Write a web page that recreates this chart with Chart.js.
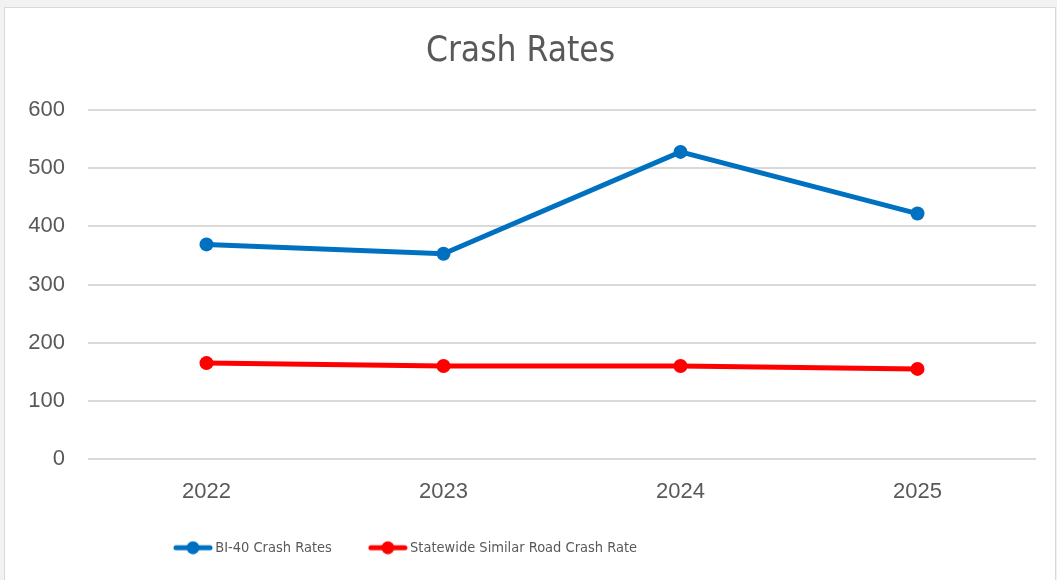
<!DOCTYPE html>
<html lang="en">
<head>
  <meta charset="UTF-8">
  <title>Crash Rates</title>
  <script src="https://cdn.jsdelivr.net/npm/chart.js"></script>
  <style>
    html, body {
      margin: 0;
      padding: 0;
      background: #f2f2f2;
    }
    #frame {
      position: absolute;
      left: 4px;
      top: 7px;
      width: 1050px;
      height: 572px;
      background: #fff;
      border: 1px solid #d9d9d9;
    }
  </style>
</head>
<body>
  <div id="frame"><canvas id="myChart"></canvas></div>

  <script>
    const years = ['2022', '2023', '2024', '2025'];
    const bi40Rates = [369, 353, 528, 422];
    const statewideRates = [165, 160, 160, 155];
    const yTicks = [0, 100, 200, 300, 400, 500, 600];

    const textGray = '#595959';
    const narrow = "'Liberation Sans Narrow', 'DejaVu Sans Condensed', Roboto, sans-serif";

    // legend marker: short line with a dot, like Excel. the canvas is wider than
    // the line so the marker sits close to its text
    function legendMarker(color) {
      const c = document.createElement('canvas');
      c.width = 74;
      c.height = 14;
      const g = c.getContext('2d');
      g.strokeStyle = color;
      g.lineWidth = 5;
      g.lineCap = 'round';
      g.beginPath();
      g.moveTo(33, 7);
      g.lineTo(67, 7);
      g.stroke();
      g.fillStyle = color;
      g.beginPath();
      g.arc(50, 7, 6.5, 0, Math.PI * 2);
      g.fill();
      return c;
    }

    // Excel leaves the legend left of centre
    const legendShift = {
      id: 'legendShift',
      afterLayout(ch) {
        ch.legend.left = 132;
      }
    };

    const ctx = document.getElementById('myChart').getContext('2d');
    const chart = new Chart(ctx, {
      type: 'line',
      data: {
        labels: years,
        datasets: [{
          label: 'BI-40 Crash Rates',
          data: bi40Rates,
          borderColor: '#0070c0',
          backgroundColor: '#0070c0',
          borderWidth: 5,
          pointRadius: 7,
          pointHoverRadius: 7,
          pointBorderWidth: 0,
          tension: 0
        }, {
          label: 'Statewide Similar Road Crash Rate',
          data: statewideRates,
          borderColor: '#ff0000',
          backgroundColor: '#ff0000',
          borderWidth: 5,
          pointRadius: 7,
          pointHoverRadius: 7,
          pointBorderWidth: 0,
          tension: 0
        }]
      },
      plugins: [legendShift],
      options: {
        responsive: true,
        maintainAspectRatio: false,
        animation: false,
        layout: {
          padding: { left: 0, right: 19, top: 0, bottom: 15 }
        },
        scales: {
          x: {
            offset: true,
            grid: { display: false, drawTicks: false },
            border: { display: false },
            ticks: {
              color: textGray,
              padding: 20,
              font: { family: 'Liberation Sans', size: 22 }
            }
          },
          y: {
            min: 0,
            max: 600,
            afterBuildTicks: axis => {
              axis.ticks = yTicks.map(v => ({ value: v }));
            },
            afterFit: axis => { axis.width = 83; },
            grid: { color: '#d9d9d9', lineWidth: 2, drawTicks: false },
            border: { display: false },
            ticks: {
              color: textGray,
              padding: 23,
              font: { family: 'Liberation Sans', size: 22 }
            }
          }
        },
        plugins: {
          title: {
            display: true,
            text: 'Crash Rates',
            color: textGray,
            font: { family: narrow, size: 35, weight: 'normal' },
            padding: { top: 23, bottom: 37 }
          },
          legend: {
            position: 'bottom',
            align: 'start',
            labels: {
              color: textGray,
              font: { family: narrow, size: 14.5 },
              usePointStyle: true,
              pointStyleWidth: 56,
              padding: 15,
              generateLabels: ch => ch.data.datasets.map((ds, i) => ({
                text: ds.label,
                fontColor: textGray,
                pointStyle: legendMarker(ds.borderColor),
                datasetIndex: i,
                hidden: false,
                lineWidth: 0
              }))
            }
          },
          tooltip: { enabled: false }
        }
      }
    });
  </script>
</body>
</html>
